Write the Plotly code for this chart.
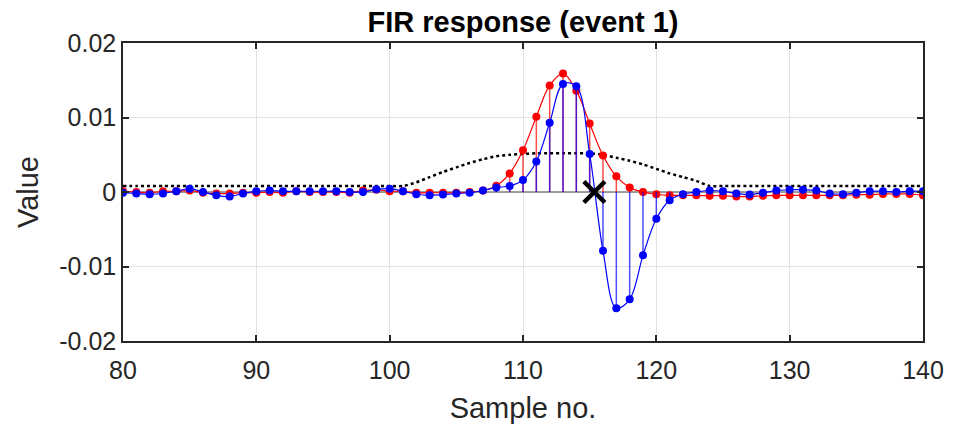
import plotly.graph_objects as go

samples = list(range(80, 141))
red_vals = [0.0001, 0.0, -0.0001, 0.0001, 0.0001, 0.0002, -0.0001, -0.0002, -0.0002, -0.0001,
            -0.0001, 0.0, -0.0001, 0.0001, 0.0, 0.0, 0.0, -0.0001, 0.0002, 0.0003,
            0.0001, 0.0001, -0.0001, -0.0001, -0.0001, -0.0001, 0.0, 0.0002, 0.00085, 0.0025,
            0.0056, 0.0101, 0.0143, 0.0159, 0.0136, 0.0092, 0.0049, 0.0021, 0.0006, 0.0,
            -0.0003, -0.00045, -0.00045, -0.00045, -0.0005, -0.0005, -0.0006, -0.0006, -0.0005, -0.00045,
            -0.00045, -0.00045, -0.00045, -0.00045, -0.00045, -0.00036, -0.00036, -0.00027, -0.00027, -0.00027,
            -0.00045]
blue_vals = [-0.0001, -0.0002, -0.0003, -0.0002, 0.0001, 0.00045, 0.0, -0.00045, -0.0006, -0.0002,
             0.0001, 0.0002, 0.0001, 0.0001, 0.0001, 0.0001, 0.0001, 0.0, 0.0, 0.00036,
             0.00045, 0.0001, -0.0003, -0.00045, -0.00035, -0.0002, -0.0001, 0.0002, 0.0006, 0.0008,
             0.0016, 0.0041, 0.0093, 0.0145, 0.0142, 0.0051, -0.0079, -0.0156, -0.0144, -0.0085,
             -0.0036, -0.0011, -0.0003, 0.0, 0.0002, 0.0001, -0.0002, -0.00035, -0.0001, 0.0002,
             0.0003, 0.0003, 0.0002, -0.0002, -0.0003, -0.0001, 0.0001, 0.0001, 0.0, 0.0001,
             0.0001]
window_vals = [0.0008] * 22 + [0.0013, 0.0020, 0.0027, 0.0033, 0.0039, 0.0044, 0.0048, 0.0050,
                               0.0051, 0.0052, 0.0052, 0.0052, 0.0052, 0.0052, 0.0050, 0.0046,
                               0.0042, 0.0037, 0.0031, 0.0025, 0.0020, 0.0015] + [0.0008] * 17
event_x = [115.35]
event_y = [0.0]

x_ticks = [80, 90, 100, 110, 120, 130, 140]
y_ticks = [-0.02, -0.01, 0, 0.01, 0.02]
y_tick_labels = ["-0.02", "-0.01", "0", "0.01", "0.02"]

FONT = "Liberation Sans, Arial, sans-serif"


def stems(xs, ys):
    sx, sy = [], []
    for x, y in zip(xs, ys):
        sx += [x, x, None]
        sy += [0, y, None]
    return sx, sy


fig = go.Figure()
fig.add_trace(go.Scatter(x=[samples[0], samples[-1]], y=[0, 0], mode="lines",
                         line=dict(color="#808080", width=1.5), hoverinfo="skip"))
fig.add_trace(go.Scatter(x=samples, y=window_vals, mode="lines",
                         line=dict(color="black", width=2.5, dash="dot", shape="spline", smoothing=0.6)))
rsx, rsy = stems(samples, red_vals)
fig.add_trace(go.Scatter(x=rsx, y=rsy, mode="lines", line=dict(color="rgba(255,0,0,0.7)", width=1.5)))
fig.add_trace(go.Scatter(x=samples, y=red_vals, mode="lines+markers",
                         line=dict(color="red", width=1.2, shape="spline", smoothing=1),
                         marker=dict(color="red", size=8)))
bsx, bsy = stems(samples, blue_vals)
fig.add_trace(go.Scatter(x=bsx, y=bsy, mode="lines", line=dict(color="rgba(0,0,255,0.7)", width=1.5)))
fig.add_trace(go.Scatter(x=samples, y=blue_vals, mode="lines+markers",
                         line=dict(color="blue", width=1.2, shape="spline", smoothing=1),
                         marker=dict(color="blue", size=8)))
fig.add_trace(go.Scatter(x=event_x, y=event_y, mode="markers",
                         marker=dict(symbol="x-thin", size=21, line=dict(color="black", width=4.5))))

axis_common = dict(showline=True, linecolor="#262626", linewidth=1.5, mirror="ticks",
                   ticks="inside", ticklen=6, tickcolor="#262626", tickwidth=1.5,
                   showgrid=True, gridcolor="#e3e3e3", gridwidth=1, zeroline=False,
                   automargin=False,
                   tickfont=dict(family=FONT, size=25, color="#262626"))

fig.update_layout(
    width=953, height=425,
    margin=dict(l=123, r=30, t=43, b=84),
    plot_bgcolor="white", paper_bgcolor="white",
    showlegend=False,
    title=dict(text="<b>FIR response (event 1)</b>", x=0.5, xref="paper", xanchor="center",
               y=0.948, yref="container", yanchor="middle", automargin=False,
               font=dict(family=FONT, size=29, color="black")),
    xaxis=dict(range=[80, 140], tickvals=x_ticks, ticklabelstandoff=6,
               title=dict(text="Sample no.", standoff=15,
                          font=dict(family=FONT, size=29, color="#262626")),
               **axis_common),
    yaxis=dict(range=[-0.02, 0.02], tickvals=y_ticks, ticktext=y_tick_labels,
               title=dict(text="Value", standoff=12,
                          font=dict(family=FONT, size=29, color="#262626")),
               **axis_common),
)

fig.write_html("out.html", config={"displayModeBar": False},
               post_script="document.body.style.margin='0';")
